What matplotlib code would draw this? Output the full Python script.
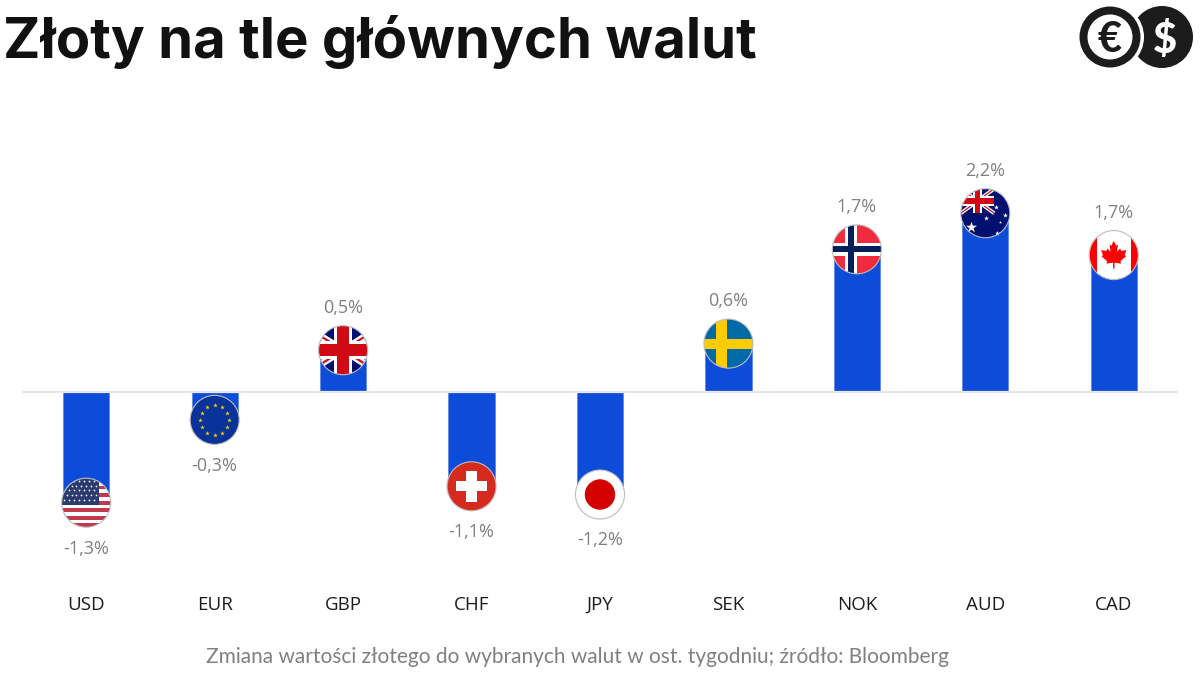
# Zloty against main currencies - bar chart with round flags
import numpy as np
import matplotlib
matplotlib.use("Agg")
import matplotlib.pyplot as plt
from matplotlib.patches import Circle, Rectangle, Polygon

# Data
#========================================#
currencies = ["USD", "EUR", "GBP", "CHF", "JPY", "SEK", "NOK", "AUD", "CAD"]
# bar lengths in %, estimated from the flag positions (printed labels are rounded)
changes = [-1.35, -0.34, 0.51, -1.15, -1.25, 0.59, 1.74, 2.18, 1.67]
value_labels = ["-1,3%", "-0,3%", "0,5%", "-1,1%", "-1,2%", "0,6%", "1,7%", "2,2%", "1,7%"]
title_text = "Złoty na tle głównych walut"
note_text = "Zmiana wartości złotego do wybranych walut w ost. tygodniu; źródło: Bloomberg"

BLUE = "#0d4cd9"
GREY = "#808080"
DARK = "#1c1c1c"
LABEL_FONT = "Open Sans"
W, H = 1200, 675

fig = plt.figure(figsize=(W / 100, H / 100), dpi=100, facecolor="white")


def px_axes(left, top, right, bottom):
    return fig.add_axes([left / W, 1 - bottom / H, (right - left) / W, (bottom - top) / H])


# Main axes: 82 px per 1%, zero line at y = 392 px
#========================================#
ax = px_axes(22, 130, 1178, 590)
ax.bar(range(len(changes)), changes, width=0.36, color=BLUE, edgecolor="#5f88e6", linewidth=0.6)
ax.axhline(0, color="#e8e8e8", lw=1.6, zorder=3)
ax.set_xlim(-0.5, 8.5)
ax.set_ylim(-(590 - 392) / 82, (392 - 130) / 82)
ax.set_yticks([])
ax.set_xticks(range(len(currencies)))
ax.set_xticklabels(currencies, fontsize=13.5, family=LABEL_FONT, color=DARK)
ax.tick_params(axis="x", length=0, pad=4)
for s in ax.spines.values():
    s.set_visible(False)


# Flags, each one in a small axes of its own so the circle stays round
#========================================#
def rect(a, clip, x0, y0, x1, y1, c):
    p = Rectangle((x0, y0), x1 - x0, y1 - y0, color=c, lw=0)
    a.add_patch(p)
    p.set_clip_path(clip)


def line(a, clip, xs, ys, c, lw):
    # same zorder as the rectangles, so the cross drawn later stays on top
    l, = a.plot(xs, ys, color=c, lw=lw, solid_capstyle="butt", zorder=1)
    l.set_clip_path(clip)


def union_jack(a, clip, x0, y0, x1, y1, k=1.0):
    xm, ym = (x0 + x1) / 2, (y0 + y1) / 2
    h = (y1 - y0) / 2
    rect(a, clip, x0, y0, x1, y1, "#00106e")
    for xs, ys in [([x0, x1], [y0, y1]), ([x0, x1], [y1, y0])]:
        line(a, clip, xs, ys, "white", 5 * k)
        line(a, clip, xs, ys, "#cf1020", 1.6 * k)
    rect(a, clip, xm - 0.38 * h, y0, xm + 0.38 * h, y1, "white")
    rect(a, clip, x0, ym - 0.38 * h, x1, ym + 0.38 * h, "white")
    rect(a, clip, xm - 0.24 * h, y0, xm + 0.24 * h, y1, "#cf0a14")
    rect(a, clip, x0, ym - 0.24 * h, x1, ym + 0.24 * h, "#cf0a14")


def flag_usd(a, clip):
    for i in range(13):
        c = "#bf3b4c" if i % 2 == 0 else "white"
        rect(a, clip, -1, 1 - (i + 1) * 2 / 13, 1, 1 - i * 2 / 13, c)
    rect(a, clip, -1, -0.077, 0.52, 1, "#2b3a70")
    for row, y in enumerate(np.arange(0.9, 0, -0.2)):
        for x in np.arange(-0.9 + 0.1 * (row % 2), 0.5, 0.2):
            s = a.scatter(x, y, s=1.6, color="white", lw=0, zorder=3)
            s.set_clip_path(clip)


def flag_eur(a, clip):
    rect(a, clip, -1, -1, 1, 1, "#0a3399")
    for t in np.arange(0, 360, 30):
        a.scatter(0.6 * np.cos(np.radians(t)), 0.6 * np.sin(np.radians(t)),
                  s=12, marker="*", color="#ffcc00", lw=0, zorder=3)


def flag_gbp(a, clip):
    union_jack(a, clip, -1.6, -1, 1.6, 1)


def flag_chf(a, clip):
    rect(a, clip, -1, -1, 1, 1, "#d52b1e")
    rect(a, clip, -0.21, -0.64, 0.21, 0.64, "white")
    rect(a, clip, -0.64, -0.21, 0.64, 0.21, "white")


def flag_jpy(a, clip):
    rect(a, clip, -1, -1, 1, 1, "white")
    a.add_patch(Circle((0, 0), 0.62, color="#d30000", lw=0))


def flag_sek(a, clip):
    rect(a, clip, -1, -1, 1, 1, "#006aa7")
    rect(a, clip, -0.52, -1, -0.06, 1, "#fecc00")
    rect(a, clip, -1, -0.2, 1, 0.2, "#fecc00")


def flag_nok(a, clip):
    rect(a, clip, -1, -1, 1, 1, "#ef2b3d")
    rect(a, clip, -0.5, -1, 0.01, 1, "white")
    rect(a, clip, -1, -0.27, 1, 0.27, "white")
    rect(a, clip, -0.37, -1, -0.11, 1, "#00205b")
    rect(a, clip, -1, -0.12, 1, 0.12, "#00205b")


def flag_aud(a, clip):
    rect(a, clip, -1, -1, 1, 1, "#00106e")
    union_jack(a, clip, -1, 0, 0.36, 1, 0.55)
    a.scatter(-0.58, -0.58, s=70, marker="*", color="white", lw=0, zorder=3)
    for x, y, s in [(0.43, 0.26, 14), (0.81, -0.07, 14), (0.03, -0.18, 14), (0.46, -0.82, 14), (0.61, -0.34, 5)]:
        a.scatter(x, y, s=s, marker="*", color="white", lw=0, zorder=3)


def flag_cad(a, clip):
    rect(a, clip, -1, -1, 1, 1, "white")
    rect(a, clip, -1, -1, -0.69, 1, "#ff0000")
    rect(a, clip, 0.72, -1, 1, 1, "#ff0000")
    half = [(0, .58), (.1, .38), (.17, .43), (.13, .13), (.26, .27), (.3, .17), (.52, .2),
            (.44, 0), (.5, -.05), (.27, -.25), (.3, -.35), (.03, -.31), (.03, -.55)]
    leaf = half + [(-x, y) for x, y in half[::-1][:-1]]
    a.add_patch(Polygon(leaf, closed=True, color="#ff0000", lw=0))


flags = [flag_usd, flag_eur, flag_gbp, flag_chf, flag_jpy, flag_sek, flag_nok, flag_aud, flag_cad]
R = 24.5
for i, v in enumerate(changes):
    px, py = ax.transData.transform((i, v))
    a = fig.add_axes([(px - R - 1) / W, (py - R - 1) / H, (2 * R + 2) / W, (2 * R + 2) / H])
    a.set_xlim(-1.04, 1.04)
    a.set_ylim(-1.04, 1.04)
    a.axis("off")
    clip = Circle((0, 0), 1, transform=a.transData)
    flags[i](a, clip)
    a.add_patch(Circle((0, 0), 1, fill=False, edgecolor="#bdbdbd", lw=0.8, zorder=5))

    # value label above or below the flag
    off = 30.5 if v > 0 else -33
    ax.annotate(value_labels[i], (i, v), xytext=(0, off), textcoords="offset points",
                ha="center", va="center", fontsize=13, family=LABEL_FONT, color=GREY)

# Title, note and the logo, in pixel coordinates
#========================================#
top = fig.add_axes([0, 0, 1, 1], facecolor="none")
top.set_xlim(0, W)
top.set_ylim(H, 0)
top.axis("off")
top.text(3, 58, title_text, fontsize=40.5, family="Inter", weight="bold", color="#111111", va="baseline")
top.text(577, 657, note_text, fontsize=15, family="Lato", color=GREY, ha="center", va="center")

top.add_patch(Circle((1162, 37), 31, color=DARK, lw=0))
top.add_patch(Circle((1110, 37), 34, color="white", lw=0))
top.add_patch(Circle((1110, 37), 30.5, color=DARK, lw=0))
top.add_patch(Circle((1110, 37), 22.5, color="white", lw=0))
top.text(1110, 37, "€", fontsize=30, family="Lato", weight="black", color=DARK, ha="center", va="center_baseline")
top.text(1165, 37, "$", fontsize=30, family="Lato", weight="black", color="white", ha="center", va="center_baseline")

fig.savefig("out.png", dpi=100)
